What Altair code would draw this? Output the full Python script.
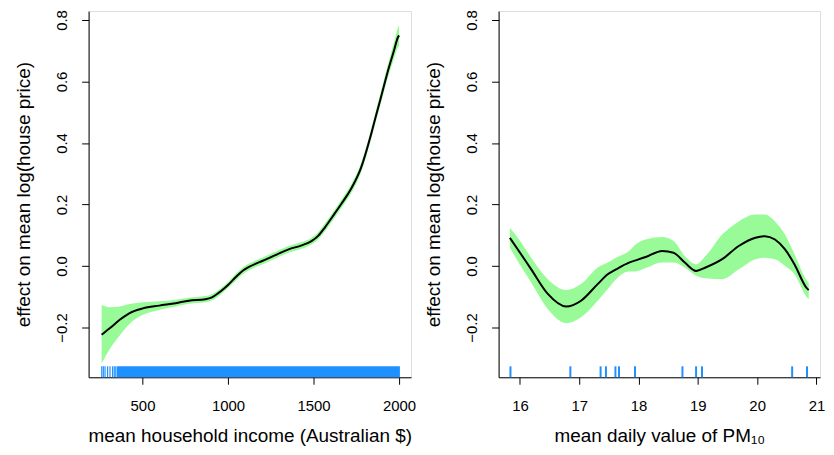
import altair as alt
import pandas as pd

# ---------------- data ----------------
income_x = [261, 310, 367, 425, 502, 598, 694, 771, 868, 906, 963, 1000, 1046, 1090,
            1123, 1160, 1200, 1277, 1354, 1431, 1488, 1527, 1566, 1623, 1660, 1719,
            1777, 1835, 1860, 1892, 1941, 1970, 1993, 2000]
income_fit = [-0.224, -0.202, -0.175, -0.153, -0.138, -0.129, -0.121, -0.113, -0.108,
              -0.102, -0.080, -0.062, -0.036, -0.014, -0.003, 0.007, 0.016, 0.035, 0.054,
              0.067, 0.081, 0.098, 0.125, 0.170, 0.200, 0.250, 0.318, 0.425, 0.478,
              0.544, 0.646, 0.700, 0.743, 0.750]
income_upper = [-0.127, -0.134, -0.132, -0.124, -0.118, -0.115, -0.110, -0.103, -0.098,
                -0.092, -0.070, -0.052, -0.025, -0.003, 0.008, 0.018, 0.027, 0.046, 0.065,
                0.078, 0.092, 0.110, 0.138, 0.183, 0.213, 0.264, 0.333, 0.441, 0.495,
                0.563, 0.668, 0.727, 0.775, 0.784]
income_lower = [-0.317, -0.269, -0.226, -0.188, -0.159, -0.143, -0.132, -0.123, -0.118,
                -0.112, -0.090, -0.072, -0.047, -0.025, -0.014, -0.004, 0.005, 0.024, 0.043,
                0.056, 0.070, 0.086, 0.112, 0.157, 0.187, 0.236, 0.303, 0.409, 0.461,
                0.525, 0.624, 0.673, 0.711, 0.716]
income_rug_sparse = [262, 271, 281, 296, 310, 325, 335, 344]
income_rug_block = [350, 2005]   # continuous stretch of rug ticks

pm_x = [15.83, 15.97, 16.19, 16.47, 16.78, 17.03, 17.31, 17.48, 17.62, 17.84, 17.95,
        18.12, 18.40, 18.59, 18.78, 18.97, 19.13, 19.41, 19.69, 19.97, 20.13, 20.30,
        20.47, 20.63, 20.84, 20.87]
pm_fit = [0.0915, 0.052, -0.011, -0.091, -0.132, -0.113, -0.059, -0.027, -0.011, 0.011,
          0.018, 0.029, 0.049, 0.043, 0.011, -0.016, -0.005, 0.022, 0.065, 0.092, 0.097,
          0.086, 0.054, 0.005, -0.073, -0.078]
pm_upper = [0.124, 0.090, 0.027, -0.043, -0.078, -0.059, -0.005, 0.011, 0.027, 0.049,
            0.070, 0.086, 0.094, 0.081, 0.032, 0.005, 0.032, 0.102, 0.145, 0.167, 0.167,
            0.145, 0.102, 0.038, -0.048, -0.055]
pm_lower = [0.059, 0.014, -0.054, -0.140, -0.186, -0.167, -0.113, -0.075, -0.043, -0.018,
            -0.018, -0.007, 0.011, 0.011, -0.005, -0.032, -0.040, -0.043, -0.011, 0.022,
            0.027, 0.022, 0.000, -0.027, -0.102, -0.108]
pm_rug = [15.84, 16.85, 17.36, 17.45, 17.61, 17.67, 17.94, 18.74, 18.97, 19.07, 20.59, 20.84]

y_ticks = [-0.2, 0.0, 0.2, 0.4, 0.6, 0.8]
income_ticks = [500, 1000, 1500, 2000]
pm_ticks = [16, 17, 18, 19, 20, 21]

y_domain = [-0.362, 0.829]
income_domain = [185, 2070]
pm_domain = [15.64, 21.06]

y_title = "effect on mean log(house price)"
income_title = "mean household income (Australian $)"
pm_title = "mean daily value of PM₁₀"

# ---------------- styling ----------------
FONT = "Liberation Sans"
H = 368
RUG = 11
GREEN = "#98FB98"
BLUE = "#1E90FF"


def make_axis_x(values, title):
    return alt.Axis(values=values, title=title, grid=False, format="d",
                    tickSize=7, labelPadding=14, titlePadding=14, domainColor="black",
                    tickColor="black", labelColor="black", titleColor="black",
                    labelFontSize=15, titleFontSize=19, titleFontWeight="normal",
                    labelFont=FONT, titleFont=FONT, labelFlush=False, labelOverlap=False)


def make_axis_y():
    return alt.Axis(values=y_ticks, title=y_title, grid=False, format=".1f",
                    tickSize=7, labelAngle=-90, labelAlign="center", labelBaseline="bottom",
                    labelPadding=12, titlePadding=21, domainColor="black",
                    tickColor="black", labelColor="black", titleColor="black",
                    labelFontSize=15, titleFontSize=19, titleFontWeight="normal",
                    labelFont=FONT, titleFont=FONT, labelFlush=False, labelOverlap=False)


def panel(xs, fit, up, lo, rug_vals, xdom, xticks, xtitle, width, block=None):
    df = pd.DataFrame({"x": xs, "fit": fit, "upper": up, "lower": lo})
    rug_df = pd.DataFrame({"x": rug_vals})
    X = alt.X("x:Q", scale=alt.Scale(domain=xdom, nice=False, zero=False),
              axis=make_axis_x(xticks, xtitle))
    ysc = alt.Scale(domain=y_domain, nice=False, zero=False)
    Y = alt.Y("lower:Q", scale=ysc, axis=make_axis_y())
    band = alt.Chart(df).mark_area(color=GREEN, opacity=1, interpolate="monotone").encode(
        x=X, y=Y, y2="upper:Q")
    line = alt.Chart(df).mark_line(color="black", strokeWidth=2, interpolate="monotone").encode(
        x=X, y=alt.Y("fit:Q", scale=ysc, axis=make_axis_y()))
    layers = [band, line]
    if block is not None:
        bdf = pd.DataFrame({"x": [block[0]], "x2": [block[1]]})
        layers.append(alt.Chart(bdf).mark_rect(color=BLUE).encode(
            x=X, x2="x2:Q", y=alt.value(H - RUG), y2=alt.value(H)))
    layers.append(alt.Chart(rug_df).mark_rule(color=BLUE, strokeWidth=2 if block is None else 1.2).encode(
        x=X, y=alt.value(H - RUG), y2=alt.value(H)))
    return alt.layer(*layers).properties(width=width, height=H)


left = panel(income_x, income_fit, income_upper, income_lower, income_rug_sparse,
             income_domain, income_ticks, income_title, 324, block=income_rug_block)
right = panel(pm_x, pm_fit, pm_upper, pm_lower, pm_rug,
              pm_domain, pm_ticks, pm_title, 323)

chart = alt.hconcat(left, right, spacing=7).properties(
    padding={"left": 6, "top": 0, "right": 0, "bottom": 0}
).configure_view(stroke=None).configure(background="white")

chart.save("out.html", embed_options={"renderer": "svg", "actions": False})
